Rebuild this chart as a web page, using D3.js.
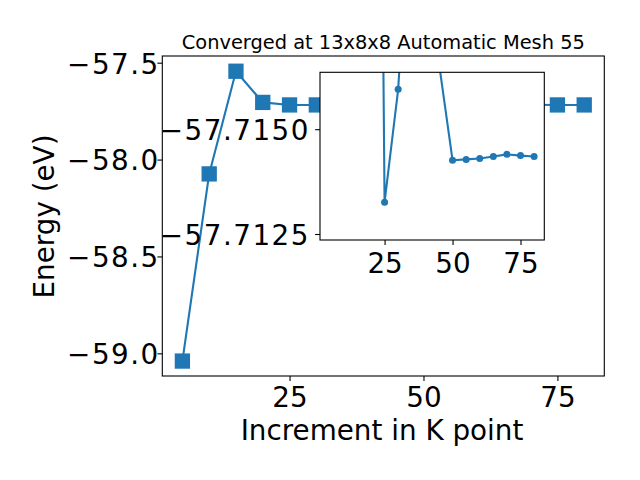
<!DOCTYPE html>
<html><head><meta charset="utf-8">
<script src="https://cdn.jsdelivr.net/npm/d3@7"></script>
<style>body{margin:0;background:#fff} svg{display:block} text{font-family:"DejaVu Sans",sans-serif;fill:#000}</style>
</head><body><svg id="c" width="640" height="480"></svg>
<script>
// ---- data ----
const kPoints = [5,10,15,20,25,30,35,40,45,50,55,60,65,70,75,80];
const energy  = [-59.040,-58.074,-57.544,-57.705,-57.718,-57.718,-57.717,-57.717,-57.717,-57.717,-57.717,-57.717,-57.717,-57.717,-57.718,-57.718];
const insetK = [20,25,30,35,40,45,50,55,60,65,70,75,80];
const insetEnergy = [-57.7500,-57.71326,-57.71595,-57.7213,-57.7200,-57.71658,-57.71426,-57.71428,-57.71430,-57.71435,-57.71440,-57.71437,-57.71435];
const xTicks = [25,50,75];
const yTicks = [-59.0,-58.5,-58.0,-57.5];
const insetYTicks = [-57.7150,-57.7125];
const titleText = "Converged at 13x8x8 Automatic Mesh 55";
const xLabel = "Increment in K point";
const yLabel = "Energy (eV)";

const color = "#1f77b4";
const svg = d3.select("#c");

// ---- main axes ----
const M = {l:162.3, r:604.3, t:56, b:376};
const x = d3.scaleLinear().domain([1.25, 83.75]).range([M.l, M.r]);
const y = d3.scaleLinear().domain([-59.1171, -57.4654]).range([M.b, M.t]);

svg.append("rect").attr("x",M.l).attr("y",M.t).attr("width",M.r-M.l).attr("height",M.b-M.t)
  .attr("fill","#fff");

const mainPts = kPoints.map((k,i)=>[k, energy[i]]);
svg.append("path").datum(mainPts)
  .attr("d", d3.line().x(d=>x(d[0])).y(d=>y(d[1])))
  .attr("fill","none").attr("stroke",color).attr("stroke-width",2.1).attr("stroke-linejoin","round");
const sq = 13.9;
svg.append("g").selectAll("rect").data(mainPts).join("rect")
  .attr("x",d=>x(d[0])-sq/2).attr("y",d=>y(d[1])-sq/2).attr("width",sq).attr("height",sq)
  .attr("fill",color).attr("stroke",color).attr("stroke-width",1.4);

svg.append("rect").attr("x",M.l).attr("y",M.t).attr("width",M.r-M.l).attr("height",M.b-M.t)
  .attr("fill","none").attr("stroke","#000").attr("stroke-width",1.1);

const gx = svg.append("g").attr("transform",`translate(0,${M.b})`)
  .call(d3.axisBottom(x).tickValues(xTicks).tickSize(4.9).tickFormat(d3.format("d")));
const gy = svg.append("g").attr("transform",`translate(${M.l},0)`)
  .call(d3.axisLeft(y).tickValues(yTicks).tickSize(4.9).tickFormat(d3.format(".1f")));
[gx,gy].forEach(g=>{ g.select(".domain").remove(); g.selectAll("line").attr("stroke","#000").attr("stroke-width",1.1);
  g.selectAll("text").attr("font-size","27.8px").attr("font-family","DejaVu Sans").attr("fill","#000"); });
gx.selectAll("text").attr("y",31.3).attr("dy",null);
gy.selectAll("text").attr("x",-2.5).attr("dy",null).attr("y",10.4).style("letter-spacing","1.5px");

svg.append("text").attr("x",(M.l+M.r)/2).attr("y",49).attr("text-anchor","middle")
  .attr("font-size","19.4px").text(titleText);
svg.append("text").attr("x",382).attr("y",440).attr("text-anchor","middle")
  .attr("font-size","27.8px").text(xLabel);
svg.append("text").attr("transform","translate(53.6,216.5) rotate(-90)").attr("text-anchor","middle")
  .attr("font-size","27.8px").text(yLabel);

// ---- inset axes ----
const I = {l:320, r:544.3, t:72.3, b:240};
const xi = d3.scaleLinear().domain([1.25, 83.75]).range([I.l, I.r]);
const yi = d3.scaleLinear().domain([-57.716357, -57.712357]).range([I.t, I.b]);

svg.append("rect").attr("x",I.l).attr("y",I.t).attr("width",I.r-I.l).attr("height",I.b-I.t).attr("fill","#fff");
svg.append("clipPath").attr("id","ic").append("rect")
  .attr("x",I.l).attr("y",I.t).attr("width",I.r-I.l).attr("height",I.b-I.t);
const gi = svg.append("g").attr("clip-path","url(#ic)");
const insetPts = insetK.map((k,i)=>[k, insetEnergy[i]]);
gi.append("path").datum(insetPts)
  .attr("d", d3.line().x(d=>xi(d[0])).y(d=>yi(d[1])))
  .attr("fill","none").attr("stroke",color).attr("stroke-width",2.1).attr("stroke-linejoin","round");
gi.selectAll("circle").data(insetPts).join("circle")
  .attr("cx",d=>xi(d[0])).attr("cy",d=>yi(d[1])).attr("r",3.5).attr("fill",color);

svg.append("rect").attr("x",I.l).attr("y",I.t).attr("width",I.r-I.l).attr("height",I.b-I.t)
  .attr("fill","none").attr("stroke","#000").attr("stroke-width",1.1);

const gxi = svg.append("g").attr("transform",`translate(0,${I.b})`)
  .call(d3.axisBottom(xi).tickValues(xTicks).tickSize(4.9).tickFormat(d3.format("d")));
const gyi = svg.append("g").attr("transform",`translate(${I.l},0)`)
  .call(d3.axisLeft(yi).tickValues(insetYTicks).tickSize(4.9).tickFormat(d3.format(".4f")));
[gxi,gyi].forEach(g=>{ g.select(".domain").remove(); g.selectAll("line").attr("stroke","#000").attr("stroke-width",1.1);
  g.selectAll("text").attr("font-size","27.8px").attr("font-family","DejaVu Sans").attr("fill","#000"); });
gxi.selectAll("text").attr("y",33).attr("dy",null);
gyi.selectAll("text").attr("x",-10).attr("dy",null).attr("y",10.4).style("letter-spacing","1.5px");
</script></body></html>
